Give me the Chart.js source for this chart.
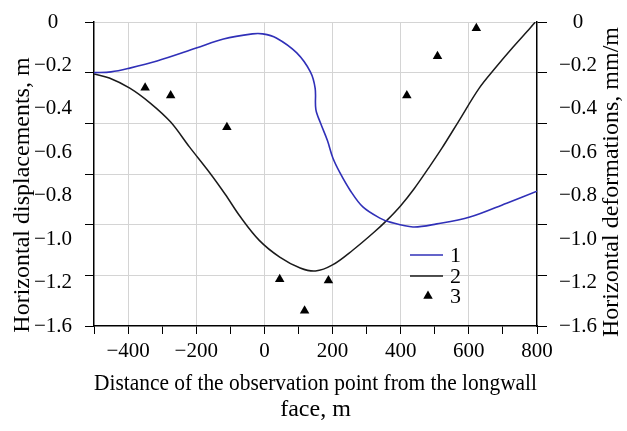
<!DOCTYPE html>
<html>
<head>
<meta charset="utf-8">
<script src="https://cdn.jsdelivr.net/npm/chart.js@4"></script>
<style>
  html, body { margin: 0; padding: 0; background: #fff; }
</style>
</head>
<body>
<canvas id="myChart" width="627" height="431"></canvas>
<script>
// curve 1 - horizontal displacements (blue)
const curve1X = [-500, -450, -395, -315, -200, -120, -35, -5, 35, 95, 135, 149, 151, 165, 185, 201, 222, 251, 289, 339, 369, 436, 506, 603, 711, 800];
const curve1Y = [-0.200, -0.197, -0.182, -0.154, -0.103, -0.067, -0.047, -0.047, -0.063, -0.122, -0.197, -0.262, -0.345, -0.400, -0.468, -0.537, -0.596, -0.663, -0.730, -0.774, -0.790, -0.809, -0.797, -0.770, -0.715, -0.668];

// curve 2 - horizontal deformations (black)
const curve2X = [-500, -455, -395, -335, -275, -220, -160, -115, -70, -15, 45, 105, 150, 200, 260, 320, 360, 400, 440, 480, 520, 570, 630, 680, 730, 780, 795];
const curve2Y = [-0.205, -0.221, -0.261, -0.320, -0.395, -0.493, -0.596, -0.680, -0.770, -0.862, -0.928, -0.971, -0.983, -0.959, -0.900, -0.832, -0.782, -0.725, -0.657, -0.580, -0.500, -0.392, -0.262, -0.178, -0.099, -0.024, 0];

// 3 - measured points
const pointsX = [-350, -275, -110, 45, 118, 188, 418, 508, 622];
const pointsY = [-0.26, -0.29, -0.415, -1.015, -1.14, -1.02, -0.29, -0.135, -0.025];

const seriesNames = ['1', '2', '3'];
const xTickLabels = ['−400', '−200', '0', '200', '400', '600', '800'];
const yLeftLabels = ['0', '−0.2', '−0.4', '−0.6', '−0.8', '−1.0', '−1.2', '−1.6'];
const yRightLabels = ['0', '−0.2', '−0.4', '−0.6', '−0.8', '−1.0', '−1.2', '−1.6'];
const xTitle = ['Distance of the observation point from the longwall', 'face, m'];
const yLeftTitle = 'Horizontal displacements, m';
const yRightTitle = 'Horizontal deformations, mm/m';

const FONT = '"Liberation Serif", "Times New Roman", serif';
const tickFont = { family: FONT, size: 21 };
const titleFont = { family: FONT, size: 24, lineHeight: 1.1 };
const gridGray = '#d4d4d4';

function toPoints(xs, ys) {
    return xs.map((x, i) => ({ x: x, y: ys[i] }));
}

// vertical axis titles (the right one reads bottom to top like the left one)
const sideTitles = {
    id: 'sideTitles',
    afterDraw(chart) {
        const ctx = chart.ctx;
        ctx.save();
        ctx.fillStyle = '#000';
        ctx.font = '24px ' + FONT;
        ctx.textAlign = 'center';
        ctx.textBaseline = 'middle';
        ctx.translate(23, 195);
        ctx.rotate(-Math.PI / 2);
        ctx.fillText(yLeftTitle, 0, 0);
        ctx.restore();

        ctx.save();
        ctx.fillStyle = '#000';
        ctx.font = '24px ' + FONT;
        ctx.textAlign = 'center';
        ctx.textBaseline = 'middle';
        ctx.translate(612, 182);
        ctx.rotate(-Math.PI / 2);
        ctx.fillText(yRightTitle, 0, 0);
        ctx.restore();
    }
};

// legend sitting inside the plot
const insideLegend = {
    id: 'insideLegend',
    afterDatasetsDraw(chart) {
        const ctx = chart.ctx;
        const x0 = 410;
        const rowY = [255, 276, 296];
        ctx.save();
        chart.data.datasets.forEach((ds, i) => {
            const y = rowY[i];
            if (ds.showLine) {
                ctx.strokeStyle = ds.borderColor;
                ctx.lineWidth = ds.borderWidth;
                ctx.beginPath();
                ctx.moveTo(x0, y);
                ctx.lineTo(x0 + 33, y);
                ctx.stroke();
            } else {
                const r = ds.pointRadius, cx = x0 + 18;
                ctx.fillStyle = ds.pointBackgroundColor;
                ctx.beginPath();
                ctx.moveTo(cx, y - r);
                ctx.lineTo(cx - r * 0.866, y + r / 2);
                ctx.lineTo(cx + r * 0.866, y + r / 2);
                ctx.closePath();
                ctx.fill();
            }
            ctx.fillStyle = '#000';
            ctx.font = '22px ' + FONT;
            ctx.textAlign = 'left';
            ctx.textBaseline = 'middle';
            ctx.fillText(ds.label, x0 + 40, y + 1);
        });
        ctx.restore();
    }
};

const ctx = document.getElementById('myChart').getContext('2d');
const chart = new Chart(ctx, {
    type: 'scatter',
    data: {
        datasets: [{
            label: seriesNames[0],
            data: toPoints(curve1X, curve1Y),
            showLine: true,
            borderColor: '#3030b8',
            borderWidth: 1.6,
            pointRadius: 0,
            tension: 0.35
        }, {
            label: seriesNames[1],
            data: toPoints(curve2X, curve2Y),
            showLine: true,
            borderColor: '#1a1a1a',
            borderWidth: 1.5,
            pointRadius: 0,
            tension: 0.35
        }, {
            label: seriesNames[2],
            data: toPoints(pointsX, pointsY),
            showLine: false,
            pointStyle: 'triangle',
            pointRadius: 5.5,
            pointBackgroundColor: '#000',
            pointBorderColor: '#000',
            pointBorderWidth: 0
        }]
    },
    options: {
        responsive: false,
        animation: false,
        devicePixelRatio: 1,
        layout: { padding: { top: 22, left: 0, right: 0, bottom: 0 } },
        plugins: { legend: { display: false }, tooltip: { enabled: false } },
        scales: {
            x: {
                type: 'linear',
                position: 'bottom',
                min: -500,
                max: 800,
                afterFit: s => { s.height = 105; },
                ticks: {
                    stepSize: 100,
                    autoSkip: false,
                    maxRotation: 0,
                    padding: 5,
                    color: '#000',
                    font: tickFont,
                    callback: v => (v % 200 === 0 ? xTickLabels[(v + 400) / 200] : '')
                },
                grid: {
                    color: c => (c.tick && c.tick.value % 200 === 0 && c.tick.value < 800) ? gridGray : 'rgba(0,0,0,0)',
                    tickColor: '#000',
                    tickLength: 8
                },
                border: { color: '#000', width: 1.5 },
                title: { display: true, text: xTitle, color: '#000', font: titleFont, padding: { top: 0, bottom: 8 } }
            },
            y: {
                position: 'left',
                min: -1.2,
                max: 0,
                weight: 0,
                afterFit: s => { s.width = 9; },
                ticks: { stepSize: 0.2, display: false },
                grid: {
                    color: c => (c.tick && c.tick.value < -1.1) ? 'rgba(0,0,0,0)' : gridGray,
                    tickColor: '#000',
                    tickLength: 9
                },
                border: { color: '#000', width: 1.5 }
            },
            yLab: {
                position: 'left',
                min: -1.4,
                max: 0,
                weight: 1,
                afterFit: s => { s.width = 85; },
                grid: { display: false },
                border: { display: false },
                ticks: {
                    stepSize: 0.2,
                    autoSkip: false,
                    crossAlign: 'center',
                    padding: 5,
                    color: '#000',
                    font: tickFont,
                    callback: v => yLeftLabels[Math.round(-v / 0.2)]
                }
            },
            y2: {
                position: 'right',
                min: -1.2,
                max: 0,
                weight: 0,
                afterFit: s => { s.width = 10; },
                ticks: { stepSize: 0.2, display: false },
                grid: { drawOnChartArea: false, tickColor: '#000', tickLength: 10 },
                border: { color: '#000', width: 1.5 }
            },
            y2Lab: {
                position: 'right',
                min: -1.4,
                max: 0,
                weight: 1,
                afterFit: s => { s.width = 80; },
                grid: { display: false },
                border: { display: false },
                ticks: {
                    stepSize: 0.2,
                    autoSkip: false,
                    crossAlign: 'center',
                    padding: 4,
                    color: '#000',
                    font: tickFont,
                    callback: v => yRightLabels[Math.round(-v / 0.2)]
                }
            }
        }
    },
    plugins: [sideTitles, insideLegend]
});
</script>
</body>
</html>
